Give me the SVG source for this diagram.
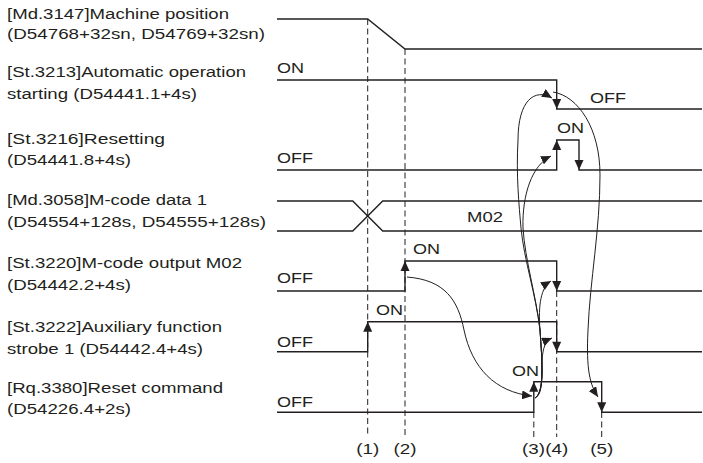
<svg xmlns="http://www.w3.org/2000/svg" width="703" height="463" viewBox="0 0 703 463">
<style>
text{font-family:"Liberation Sans",Arial,sans-serif;font-size:15.5px;fill:#231f20}
.w{fill:none;stroke:#231f20;stroke-width:1.4}
.d{fill:none;stroke:#231f20;stroke-width:1;stroke-dasharray:6 3.5}
.c{fill:none;stroke:#231f20;stroke-width:1;marker-end:url(#m)}
.n{text-anchor:middle}
</style>
<defs>
<marker id="m" markerUnits="userSpaceOnUse" markerWidth="11" markerHeight="9" refX="10" refY="4.5" orient="auto" viewBox="0 0 11 9"><path d="M0,0 L10,4.5 L0,9 Z" fill="#231f20"/></marker>
<path id="up" d="M0,0 L-4.5,10 L4.5,10 Z" fill="#231f20"/>
<path id="dn" d="M0,0 L-4.5,-10 L4.5,-10 Z" fill="#231f20"/>
</defs>
<rect width="703" height="463" fill="#fff"/>

<g id="guides">
<path class="d" d="M367.7 19 V437"/>
<path class="d" d="M405 49 V437"/>
<path class="d" d="M533.8 412 V437"/>
<path class="d" d="M556.7 291 V437"/>
<path class="d" d="M601.7 412 V437"/>
<text class="n" x="367.7" y="454" textLength="23" lengthAdjust="spacingAndGlyphs">(1)</text>
<text class="n" x="405" y="454" textLength="23" lengthAdjust="spacingAndGlyphs">(2)</text>
<text class="n" x="533.5" y="454" textLength="23" lengthAdjust="spacingAndGlyphs">(3)</text>
<text class="n" x="556.7" y="454" textLength="23" lengthAdjust="spacingAndGlyphs">(4)</text>
<text class="n" x="601.7" y="454" textLength="23" lengthAdjust="spacingAndGlyphs">(5)</text>
</g>

<g id="machine-position">
<text x="7" y="19" textLength="222" lengthAdjust="spacingAndGlyphs">[Md.3147]Machine position</text>
<text x="7" y="39" textLength="258" lengthAdjust="spacingAndGlyphs">(D54768+32sn, D54769+32sn)</text>
<path class="w" d="M277 19 H367.7 L405 49 H702"/>
</g>

<g id="auto-operation-starting">
<text x="7" y="77" textLength="239" lengthAdjust="spacingAndGlyphs">[St.3213]Automatic operation</text>
<text x="7" y="99" textLength="190" lengthAdjust="spacingAndGlyphs">starting (D54441.1+4s)</text>
<path class="w" d="M277 80 H556.7 V109 H702"/>
<use href="#dn" x="556.7" y="109"/>
<text x="277" y="73" textLength="27" lengthAdjust="spacingAndGlyphs">ON</text>
<text x="590" y="103" textLength="36" lengthAdjust="spacingAndGlyphs">OFF</text>
</g>

<g id="resetting">
<text x="7" y="144" textLength="158" lengthAdjust="spacingAndGlyphs">[St.3216]Resetting</text>
<text x="7" y="165" textLength="124" lengthAdjust="spacingAndGlyphs">(D54441.8+4s)</text>
<path class="w" d="M277 170 H556.7 V140 H579 V170 H702"/>
<use href="#up" x="556.7" y="140"/>
<use href="#dn" x="579" y="170"/>
<text x="557" y="133" textLength="27" lengthAdjust="spacingAndGlyphs">ON</text>
<text x="277" y="163" textLength="36" lengthAdjust="spacingAndGlyphs">OFF</text>
</g>

<g id="m-code-data">
<text x="7" y="205" textLength="200" lengthAdjust="spacingAndGlyphs">[Md.3058]M-code data 1</text>
<text x="7" y="227" textLength="259" lengthAdjust="spacingAndGlyphs">(D54554+128s, D54555+128s)</text>
<path class="w" d="M277 201 H352.7 L382.7 231 H702"/>
<path class="w" d="M277 231 H352.7 L382.7 201 H702"/>
<text x="467" y="222" textLength="36" lengthAdjust="spacingAndGlyphs">M02</text>
</g>

<g id="m-code-output">
<text x="7" y="268" textLength="235" lengthAdjust="spacingAndGlyphs">[St.3220]M-code output M02</text>
<text x="7" y="290" textLength="124" lengthAdjust="spacingAndGlyphs">(D54442.2+4s)</text>
<path class="w" d="M277 291 H405 V261 H556.7 V291 H702"/>
<use href="#up" x="405" y="261"/>
<use href="#dn" x="556.7" y="291"/>
<text x="413" y="254" textLength="27" lengthAdjust="spacingAndGlyphs">ON</text>
<text x="277" y="283" textLength="36" lengthAdjust="spacingAndGlyphs">OFF</text>
</g>

<g id="aux-strobe">
<text x="7" y="332" textLength="215" lengthAdjust="spacingAndGlyphs">[St.3222]Auxiliary function</text>
<text x="7" y="354" textLength="196" lengthAdjust="spacingAndGlyphs">strobe 1 (D54442.4+4s)</text>
<path class="w" d="M277 351.7 H367.7 V321.7 H556.7 V351.7 H702"/>
<use href="#up" x="367.7" y="321.7"/>
<use href="#dn" x="556.7" y="351.7"/>
<text x="376" y="315" textLength="27" lengthAdjust="spacingAndGlyphs">ON</text>
<text x="277" y="346.5" textLength="36" lengthAdjust="spacingAndGlyphs">OFF</text>
</g>

<g id="reset-command">
<text x="7" y="393" textLength="216" lengthAdjust="spacingAndGlyphs">[Rq.3380]Reset command</text>
<text x="7" y="414" textLength="124" lengthAdjust="spacingAndGlyphs">(D54226.4+2s)</text>
<path class="w" d="M277 412.3 H533.8 V381.7 H601.7 V412.3 H702"/>
<use href="#up" x="533.8" y="381.7"/>
<use href="#dn" x="601.7" y="412.3"/>
<text x="512" y="376" textLength="27" lengthAdjust="spacingAndGlyphs">ON</text>
<text x="277" y="406.5" textLength="36" lengthAdjust="spacingAndGlyphs">OFF</text>
</g>

<g id="connectors">
<path class="c" d="M407 277 C445 280 458 300 464 330 C472 368 495 392 532 396"/>
<path class="c" d="M535 398 C544 394 541 372 542 360 C543 348 545 341 552 338"/>
<path class="c" d="M535 398 C545 392 542 360 540 330 C538 305 541 287 551 281"/>
<path class="c" d="M535 398 C545 392 542 360 540 330 C536 295 525 260 523 228 C522 195 532 165 551 156"/>
<path class="c" d="M535 398 C545 392 542 360 540 330 C536 295 524 260 521 228 C519 205 516 175 518 140 C518 100 535 88 552 98"/>
<path class="c" d="M553 92 C578 96 600 128 600 175 C600 230 590 280 588 330 C586 370 590 385 598 397"/>
</g>
</svg>
